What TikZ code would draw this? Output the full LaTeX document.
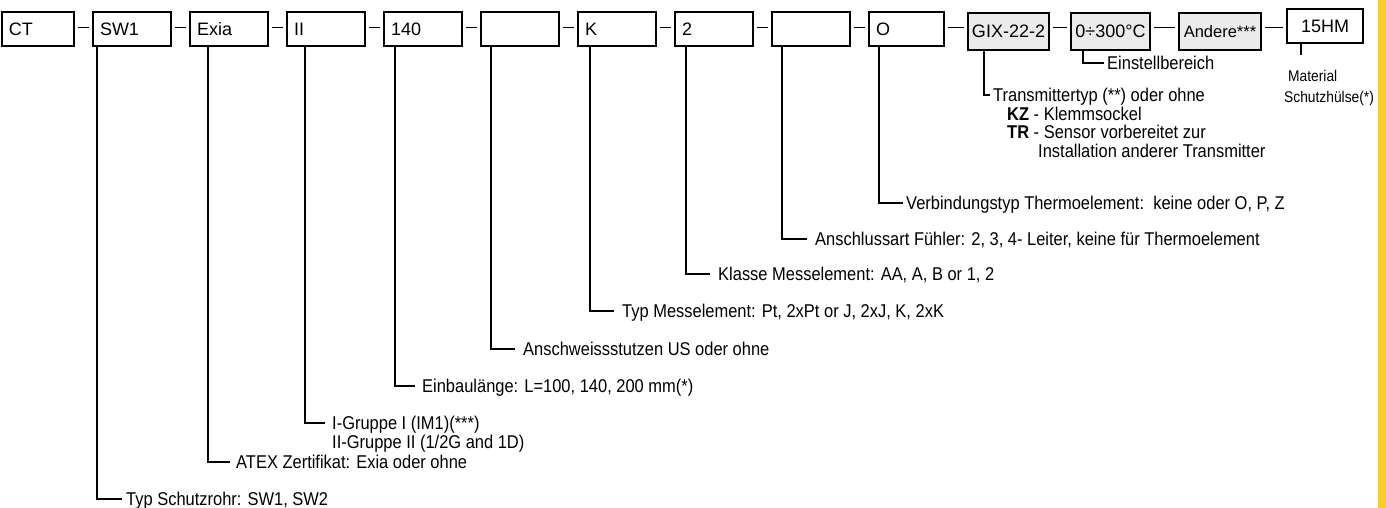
\documentclass[tikz,border=0pt]{standalone}
\usepackage{fontspec}
\setmainfont{Liberation Sans}
\newfontfamily\notefont{Liberation Sans}[FakeStretch=0.89]
\usepackage{xcolor}
\usepackage{tikz}
\usetikzlibrary{positioning}

\definecolor{optgray}{HTML}{EBEBEB}
\definecolor{baryellow}{HTML}{FFCC29}

\begin{document}
\begin{tikzpicture}[x=1pt, y=-1pt,
			codebox/.style={draw, line width=1.5pt, outer sep=0pt, minimum height=34pt, inner xsep=7pt, inner ysep=0pt,
				text height=12.9pt, text depth=0pt, text width=#1, align=left, font=\fontsize{18}{20}\selectfont},
			codebox/.default=64pt,
			optbox/.style={codebox=#1, fill=optgray, minimum height=37pt, inner xsep=1pt, align=center},
			note/.style={anchor=west, inner xsep=7pt, inner ysep=0pt, text height=13.2pt, text depth=0pt,
				font=\notefont\fontsize{18.5}{18.5}\selectfont},
			lead/.style={line width=1.4pt},
			link/.style={line width=1.5pt, shorten <=4pt, shorten >=4pt}]
			
			\useasboundingbox (0,0) rectangle (1386,508);
			\fill[baryellow] (1378,0) rectangle (1386,508);
			
			% order code boxes
			\node[codebox=58pt, anchor=west] (ct) at (2,29) {CT};
			\node[codebox, right=19pt of ct] (sw1) {SW1};
			\node[codebox, right=19pt of sw1] (exia) {Exia};
			\node[codebox, right=19pt of exia] (grp) {II};
			\node[codebox, right=19pt of grp] (len) {140};
			\node[codebox, right=19pt of len] (weld) {};
			\node[codebox, right=19pt of weld] (elem) {K};
			\node[codebox, right=19pt of elem] (cls) {2};
			\node[codebox, right=19pt of cls] (wire) {};
			\node[codebox=61pt, right=19pt of wire] (conn) {O};
			\node[optbox=79pt, right=24pt of conn, yshift=-2.5pt] (trans) {GIX-22-2};
			\node[optbox=77pt, right=22pt of trans] (range) {0÷300°C};
			\node[optbox=80pt, right=29pt of range, font=\fontsize{16.5}{18}\selectfont] (other) {Andere***};
			\node[codebox=62pt, align=center, right=26pt of other, yshift=5.5pt] (mat) {15HM};
			
			% dashes between the boxes
			\coordinate (dashrow) at (0,27.5);
			\draw[link] (ct.east |- dashrow) -- (sw1.west |- dashrow);
			\draw[link] (sw1.east |- dashrow) -- (exia.west |- dashrow);
			\draw[link] (exia.east |- dashrow) -- (grp.west |- dashrow);
			\draw[link] (grp.east |- dashrow) -- (len.west |- dashrow);
			\draw[link] (len.east |- dashrow) -- (weld.west |- dashrow);
			\draw[link] (weld.east |- dashrow) -- (elem.west |- dashrow);
			\draw[link] (elem.east |- dashrow) -- (cls.west |- dashrow);
			\draw[link] (cls.east |- dashrow) -- (wire.west |- dashrow);
			\draw[link] (wire.east |- dashrow) -- (conn.west |- dashrow);
			\draw[link] (conn.east |- dashrow) -- (trans.west |- dashrow);
			\draw[link] (trans.east |- dashrow) -- (range.west |- dashrow);
			\draw[link] (range.east |- dashrow) -- (other.west |- dashrow);
			\draw[link] (other.east |- dashrow) -- (mat.west |- dashrow);
			
			% descriptions
			\node[note, inner xsep=4pt] (t-sw1) at (122,499) {Typ Schutzrohr: SW1, SW2};
			\node[note, inner xsep=6pt] (t-exia) at (230,462) {ATEX Zertifikat: Exia oder ohne};
			\node[note] (t-grp) at (325,423) {I-Gruppe I (IM1)(***)};
			\node[note] (t-grp2) at (325,441.5) {II-Gruppe II (1/2G and 1D)};
			\node[note] (t-len) at (415,386) {Einbaulänge: L=100, 140, 200 mm(*)};
			\node[note, inner xsep=8pt] (t-weld) at (515,349) {Anschweissstutzen US oder ohne};
			\node[note, inner xsep=8pt] (t-elem) at (614,311) {Typ Messelement: Pt, 2xPt or J, 2xJ, K, 2xK};
			\node[note, inner xsep=8pt] (t-cls) at (710,274) {Klasse Messelement: AA, A, B or 1, 2};
			\node[note, inner xsep=8pt] (t-wire) at (807,239) {Anschlussart Fühler: 2, 3, 4- Leiter, keine für Thermoelement};
			\node[note, inner xsep=3pt] (t-conn) at (903,203) {Verbindungstyp Thermoelement:\ \ keine oder O, P, Z};
			\node[note, inner xsep=3pt] (t-trans) at (990,95) {Transmittertyp (**) oder ohne};
			\node[note, inner xsep=3pt] (t-kz) at (1004,113.5) {\textbf{KZ} - Klemmsockel};
			\node[note, inner xsep=3pt] (t-tr) at (1004,132) {\textbf{TR} - Sensor vorbereitet zur};
			\node[note, inner xsep=3pt] (t-tr2) at (1035,150.5) {Installation anderer Transmitter};
			\node[note, inner xsep=3pt] (t-range) at (1104,63) {Einstellbereich};
			\node[note, inner xsep=5pt, text height=11.1pt, font=\notefont\fontsize{15.5}{15.5}\selectfont] (t-mat) at (1283,76) {Material};
			\node[note, inner xsep=5pt, text height=11.1pt, font=\notefont\fontsize{15.5}{15.5}\selectfont] (t-mat2) at (1279,97) {Schutzhülse(*)};
			
			% leader lines
			\draw[lead] ([xshift=4pt]sw1.south west) |- (t-sw1.west);
			\draw[lead] ([xshift=18pt]exia.south west) |- (t-exia.west);
			\draw[lead] ([xshift=18pt]grp.south west) |- (t-grp.west);
			\draw[lead] ([xshift=11pt]len.south west) |- (t-len.west);
			\draw[lead] ([xshift=10pt]weld.south west) |- (t-weld.west);
			\draw[lead] ([xshift=12pt]elem.south west) |- (t-elem.west);
			\draw[lead] ([xshift=11pt]cls.south west) |- (t-cls.west);
			\draw[lead] ([xshift=10pt]wire.south west) |- (t-wire.west);
			\draw[lead] ([xshift=10pt]conn.south west) |- (t-conn.west);
			\draw[lead] ([xshift=16pt]trans.south west) |- (t-trans.west);
			\draw[lead] ([xshift=12pt]range.south west) |- (t-range.west);
			\coordinate (tick) at (1301,55);
			\draw[lead] (mat.south west -| tick) -- (tick);
			
		\end{tikzpicture}
\end{document}
